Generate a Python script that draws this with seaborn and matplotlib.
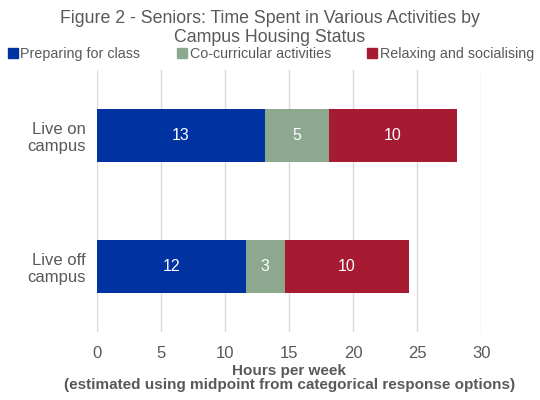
import numpy as np
import pandas as pd
import seaborn as sns
import matplotlib
matplotlib.use("Agg")
import matplotlib.pyplot as plt
from matplotlib.lines import Line2D

# data
groups = ["Live on\ncampus", "Live off\ncampus"]
activities = ["Preparing for class", "Co-curricular activities", "Relaxing and socialising"]
preparing = [13.1, 11.6]
cocurricular = [5.0, 3.05]
relaxing = [10.0, 9.75]
colors = ["#0033A1", "#8CA88F", "#A61A32"]
text_grey = "#595959"

sns.set_theme(style="white")
plt.rcParams["font.family"] = ["Liberation Sans", "DejaVu Sans"]

df = pd.DataFrame({"group": groups, "prep": preparing, "cocur": cocurricular, "relax": relaxing})
df["cum1"] = df["prep"]
df["cum2"] = df["prep"] + df["cocur"]
df["cum3"] = df["cum2"] + df["relax"]

fig = plt.figure(figsize=(5.4, 4), dpi=100)
ax = fig.add_axes([0.180, 0.17, 0.711, 0.655])

# stacked look: draw the totals first, then the shorter cumulative bars on top
for col, c in zip(["cum3", "cum2", "cum1"], colors[::-1]):
    sns.barplot(data=df, x=col, y="group", color=c, width=0.4, ax=ax,
                saturation=1, edgecolor="none", orient="h")

# value labels in the middle of each segment
for i in range(len(groups)):
    starts = [0, df["cum1"][i], df["cum2"][i]]
    vals = [df["prep"][i], df["cocur"][i], df["relax"][i]]
    for s, v in zip(starts, vals):
        ax.text(s + v / 2, i, f"{v:.0f}", ha="center", va="center",
                color="white", fontsize=11.5)

ax.set_xlim(0, 30)
ax.set_ylim(1.5, -0.5)
ax.set_xticks(np.arange(0, 31, 5))
ax.xaxis.grid(True, color="#D9D9D9", linewidth=1)
ax.set_axisbelow(True)
for sp in ax.spines.values():
    sp.set_visible(False)
ax.tick_params(axis="both", length=0, colors=text_grey, labelsize=12)
ax.tick_params(axis="x", pad=10)
ax.tick_params(axis="y", pad=8)
for lbl in ax.get_yticklabels():
    lbl.set_fontsize(12)
    lbl.set_horizontalalignment("right")
ax.set_ylabel("")
ax.set_xlabel("Hours per week\n(estimated using midpoint from categorical response options)",
              fontsize=11, fontweight="bold", color=text_grey, labelpad=2, linespacing=1.0)

fig.text(0.5, 0.976, "Figure 2 - Seniors: Time Spent in Various Activities by\nCampus Housing Status",
         ha="center", va="top", fontsize=12.8, color=text_grey, linespacing=1.2)

handles = [Line2D([], [], marker="s", linestyle="none", markersize=6.5, color=c) for c in colors]
fig.legend(handles, activities, loc="center", bbox_to_anchor=(0.5, 0.866), ncol=3,
           frameon=False, fontsize=10.3, handletextpad=0.05, columnspacing=2.4,
           handlelength=1.0, labelcolor=text_grey, borderaxespad=0, borderpad=0)

fig.savefig("out.png", dpi=100)
